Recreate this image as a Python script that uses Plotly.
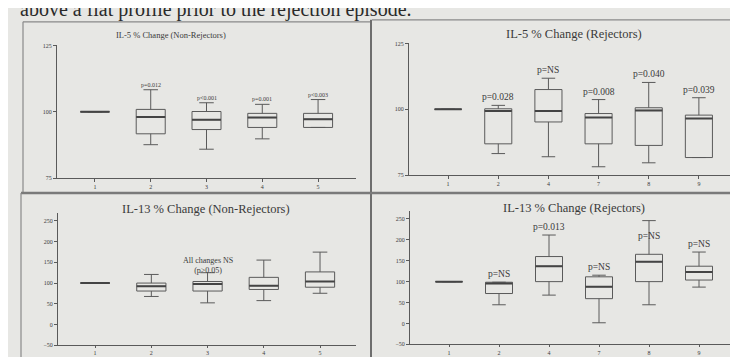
import plotly.graph_objects as go

# ---------------- data ----------------
tl_labels = ["1", "2", "3", "4", "5"]
tl_q1 = [100, 91.7, 93.3, 94.1, 94.1]
tl_med = [100, 98.0, 97.0, 97.8, 97.2]
tl_q3 = [100, 100.9, 100.1, 99.4, 99.4]
tl_lo = [100, 87.6, 85.9, 89.8, 94.1]
tl_hi = [100, 108.3, 103.4, 102.8, 104.6]
tl_p = ["", "p=0.012", "p<0.001", "p=0.001", "p<0.003"]

tr_labels = ["1", "2", "4", "7", "8", "9"]
tr_q1 = [100, 86.9, 95.2, 86.9, 86.3, 81.7]
tr_med = [100, 99.4, 99.4, 96.9, 99.6, 96.5]
tr_q3 = [100, 100.2, 107.5, 98.4, 100.6, 97.8]
tr_lo = [100, 83.2, 82.0, 78.2, 79.7, 81.7]
tr_hi = [100, 101.5, 111.8, 103.7, 110.2, 104.4]
tr_p = ["", "p=0.028", "p=NS", "p=0.008", "p=0.040", "p=0.039"]

bl_labels = ["1", "2", "3", "4", "5"]
bl_q1 = [100, 80.8, 80.8, 84.6, 90.0]
bl_med = [100, 92.3, 97.7, 93.8, 103.8]
bl_q3 = [100, 100.0, 103.8, 113.8, 126.9]
bl_lo = [100, 67.7, 52.3, 57.7, 75.4]
bl_hi = [100, 120.8, 125.0, 155.4, 174.6]
bl_note = "All changes NS<br>(p>0.05)"

br_labels = ["1", "2", "4", "7", "8", "9"]
br_q1 = [100, 71.5, 100, 59.2, 100, 103.8]
br_med = [100, 95.4, 136.9, 87.7, 147.7, 123.1]
br_q3 = [100, 98.5, 160, 111.5, 165.4, 136.9]
br_lo = [100, 44.6, 67.7, 1.5, 44.6, 86.9]
br_hi = [100, 98.5, 211.5, 115.4, 246, 170.8]
br_p = ["", "p=NS", "p=0.013", "p=NS", "p=NS", "p=NS"]

il5_ticks = [75, 100, 125]
il13_ticks = [-50, 0, 50, 100, 150, 200, 250]

titles = ["IL-5 % Change (Non-Rejectors)", "IL-5 % Change (Rejectors)",
          "IL-13 % Change (Non-Rejectors)", "IL-13 % Change (Rejectors)"]
header = "above a flat profile prior to the rejection episode."

# ---------------- style ----------------
W, H = 738, 357
BG = "#e7e7e4"
LINE = "#5a5a5a"
TXT = "#3a3a3a"
SERIF = "Liberation Serif, Times New Roman, serif"


def px_x(a, b):
    return [a / W, b / W]


def px_y(top, bottom):
    return [1 - bottom / H, 1 - top / H]


panels = [
    dict(labels=tl_labels, q1=tl_q1, med=tl_med, q3=tl_q3, lo=tl_lo, hi=tl_hi, p=tl_p,
         xd=px_x(49, 348), yd=px_y(35, 170), xr=[0.32, 5.68], yr=[75, 125], yt=il5_ticks,
         bw=0.52, pfont=6, pshift=[0] * 5, title_xy=(163, 24), tfont=8.5, tl=3),
    dict(labels=tr_labels, q1=tr_q1, med=tr_med, q3=tr_q3, lo=tr_lo, hi=tr_hi, p=tr_p,
         xd=px_x(401, 728), yd=px_y(33, 167), xr=[0.22, 6.74], yr=[75, 125], yt=il5_ticks,
         bw=0.54, pfont=9.5, pshift=[1] * 6, title_xy=(566, 23), tfont=12.5, tl=3),
    dict(labels=bl_labels, q1=bl_q1, med=bl_med, q3=bl_q3, lo=bl_lo, hi=bl_hi, p=None,
         xd=px_x(50, 348), yd=px_y(205, 340), xr=[0.34, 5.64], yr=[-50, 270], yt=il13_ticks,
         bw=0.52, pfont=8.5, pshift=None, title_xy=(198, 201), tfont=12.5, tl=2),
    dict(labels=br_labels, q1=br_q1, med=br_med, q3=br_q3, lo=br_lo, hi=br_hi, p=br_p,
         xd=px_x(402, 726), yd=px_y(203, 339), xr=[0.22, 6.70], yr=[-50, 270], yt=il13_ticks,
         bw=0.54, pfont=9.5, pshift=[1, 1, 1, 1, -22, 1], title_xy=(566, 200), tfont=12.5, tl=2),
]

fig = go.Figure()
annotations = []
layout_axes = {}

for i, pn in enumerate(panels):
    k = "" if i == 0 else str(i + 1)
    xa, ya = "x" + k, "y" + k
    pos = list(range(1, len(pn["labels"]) + 1))
    fig.add_trace(go.Box(
        x=pos, q1=pn["q1"], median=pn["med"], q3=pn["q3"],
        lowerfence=pn["lo"], upperfence=pn["hi"],
        width=pn["bw"], whiskerwidth=0.5, boxpoints=False,
        line=dict(color=LINE, width=1), fillcolor="rgba(0,0,0,0)",
        xaxis=xa, yaxis=ya, showlegend=False, hoverinfo="skip"))
    # thicker medians
    mx, my = [], []
    for p_, m in zip(pos, pn["med"]):
        mx += [p_ - pn["bw"] / 2, p_ + pn["bw"] / 2, None]
        my += [m, m, None]
    fig.add_trace(go.Scatter(x=mx, y=my, mode="lines", line=dict(color="#444", width=2),
                             xaxis=xa, yaxis=ya, showlegend=False, hoverinfo="skip"))

    layout_axes["xaxis" + k] = dict(
        domain=pn["xd"], range=pn["xr"], anchor=ya, tickmode="array",
        tickvals=pos, ticktext=pn["labels"], showgrid=False, zeroline=False,
        showline=True, linecolor=LINE, linewidth=1, ticks="outside", ticklen=pn["tl"],
        tickcolor=LINE, tickfont=dict(size=6, color=TXT, family=SERIF))
    layout_axes["yaxis" + k] = dict(
        domain=pn["yd"], range=pn["yr"], anchor=xa, tickmode="array",
        tickvals=pn["yt"], showgrid=False, zeroline=False,
        showline=True, linecolor=LINE, linewidth=1, ticks="outside", ticklen=3,
        tickcolor=LINE, tickfont=dict(size=6, color=TXT, family=SERIF))

    if pn["p"]:
        for p_, hi, txt, sh in zip(pos, pn["hi"], pn["p"], pn["pshift"]):
            if txt:
                annotations.append(dict(
                    x=p_, y=hi, xref=xa, yref=ya, text=txt, showarrow=False,
                    yanchor="bottom", yshift=sh,
                    font=dict(size=pn["pfont"], color=TXT, family=SERIF)))
    tx, ty = pn["title_xy"]
    annotations.append(dict(
        x=tx / W, y=1 - ty / H, xref="paper", yref="paper", text=titles[i],
        showarrow=False, xanchor="center", yanchor="middle",
        font=dict(size=pn["tfont"], color=TXT, family=SERIF)))

# note in bottom-left panel
annotations.append(dict(
    x=3, y=bl_q3[2], xref="x3", yref="y3", text=bl_note, showarrow=False,
    yanchor="bottom", yshift=4, font=dict(size=8, color=TXT, family=SERIF)))

# cut-off header line of the scanned page
annotations.append(dict(
    x=10 / W, y=1 - 12 / H, xref="paper", yref="paper", text=header,
    showarrow=False, xanchor="left", yanchor="bottom",
    font=dict(size=20, color="#2a2a2a", family=SERIF)))

FR = "#8a8a8a"
shapes = [
    # top-left frame
    dict(type="line", xref="paper", yref="paper", x0=15 / W, x1=362 / W,
         y0=1 - 11 / H, y1=1 - 11 / H, line=dict(color=FR, width=1.2)),
    dict(type="line", xref="paper", yref="paper", x0=15 / W, x1=15 / W,
         y0=1 - 11 / H, y1=1 - 184 / H, line=dict(color=FR, width=1.2)),
    # top-right frame top
    dict(type="line", xref="paper", yref="paper", x0=364 / W, x1=1,
         y0=1 - 9 / H, y1=1 - 9 / H, line=dict(color=FR, width=1.2)),
    # vertical divider
    dict(type="line", xref="paper", yref="paper", x0=363 / W, x1=363 / W,
         y0=1 - 9 / H, y1=0, line=dict(color="#6e6e6e", width=2)),
    # horizontal divider
    dict(type="line", xref="paper", yref="paper", x0=13 / W, x1=1,
         y0=1 - 185 / H, y1=1 - 185 / H, line=dict(color="#7a7a7a", width=2.5)),
    # bottom-left frame left
    dict(type="line", xref="paper", yref="paper", x0=13 / W, x1=13 / W,
         y0=1 - 185 / H, y1=0, line=dict(color=FR, width=1.2)),
]

fig.update_layout(
    width=W, height=H, margin=dict(l=0, r=0, t=0, b=0),
    paper_bgcolor=BG, plot_bgcolor=BG, showlegend=False,
    annotations=annotations, shapes=shapes, **layout_axes)

fig.write_html("out.html")
